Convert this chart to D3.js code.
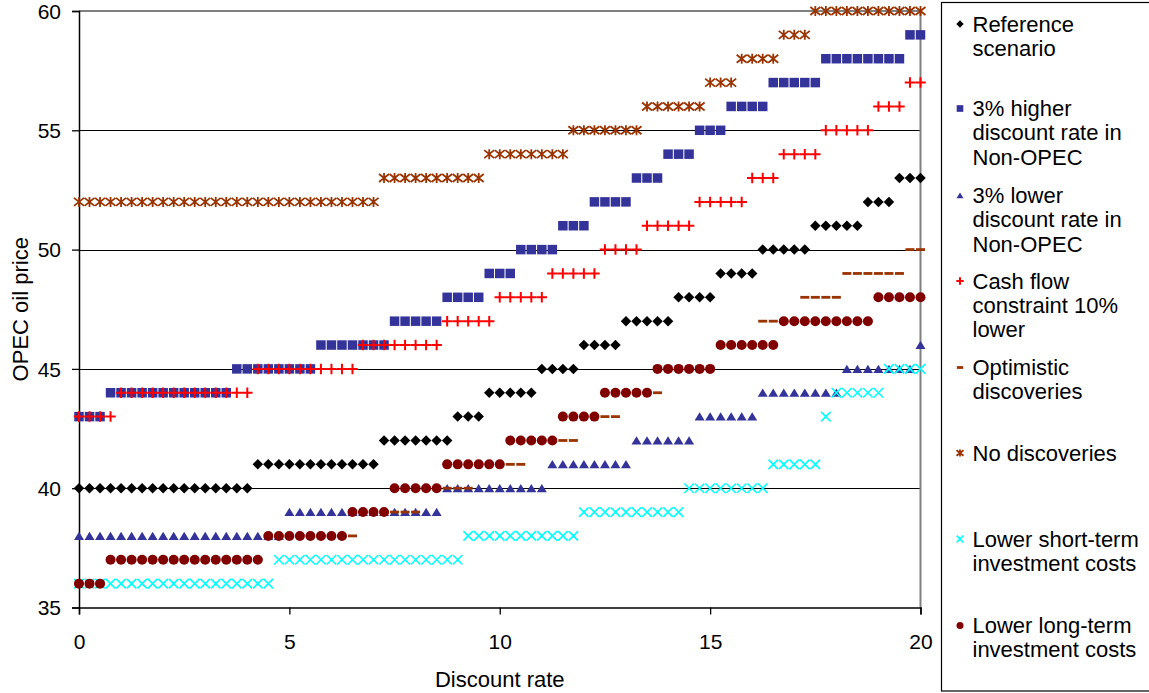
<!DOCTYPE html>
<html><head><meta charset="utf-8">
<script src="https://cdn.jsdelivr.net/npm/d3@7"></script>
<style>
body{margin:0;background:#fff;}
text{font-family:Arial,"Liberation Sans",sans-serif;fill:#000;}
</style>
</head><body>
<svg id="chart" width="1149" height="693"></svg>
<script>
// ---- DATA ----
const discountRates = [0,0.25,0.5,0.75,1,1.25,1.5,1.75,2,2.25,2.5,2.75,3,3.25,3.5,3.75,4,4.25,4.5,4.75,
  5,5.25,5.5,5.75,6,6.25,6.5,6.75,7,7.25,7.5,7.75,8,8.25,8.5,8.75,9,9.25,9.5,9.75,
  10,10.25,10.5,10.75,11,11.25,11.5,11.75,12,12.25,12.5,12.75,13,13.25,13.5,13.75,14,14.25,14.5,14.75,
  15,15.25,15.5,15.75,16,16.25,16.5,16.75,17,17.25,17.5,17.75,18,18.25,18.5,18.75,19,19.25,19.5,19.75,20];

const referenceScenario = [
  40,40,40,40,40,40,40,40,40,40,40,40,40,40,40,40,40,
  41,41,41,41,41,41,41,41,41,41,41,41,
  42,42,42,42,42,42,42,
  43,43,43,
  44,44,44,44,44,
  45,45,45,45,
  46,46,46,46,
  47,47,47,47,47,
  48,48,48,48,
  49,49,49,49,
  50,50,50,50,50,
  51,51,51,51,51,
  52,52,52,
  53,53,53];

const higherDiscountNonOPEC = [
  43,43,43,
  44,44,44,44,44,44,44,44,44,44,44,44,
  45,45,45,45,45,45,45,45,
  46,46,46,46,46,46,46,
  47,47,47,47,47,
  48,48,48,48,
  49,49,49,
  50,50,50,50,
  51,51,51,
  52,52,52,52,
  53,53,53,
  54,54,54,
  55,55,55,
  56,56,56,56,
  57,57,57,57,57,
  58,58,58,58,58,58,58,58,
  59,59];

const lowerDiscountNonOPEC = [
  38,38,38,38,38,38,38,38,38,38,38,38,38,38,38,38,38,38,38,38,
  39,39,39,39,39,39,39,39,39,39,39,39,39,39,39,
  40,40,40,40,40,40,40,40,40,40,
  41,41,41,41,41,41,41,41,
  42,42,42,42,42,42,
  43,43,43,43,43,43,
  44,44,44,44,44,44,44,44,
  45,45,45,45,45,45,45,
  46];

const cashFlowConstraint = [
  43,43,43,43,
  44,44,44,44,44,44,44,44,44,44,44,44,44,
  45,45,45,45,45,45,45,45,45,45,
  46,46,46,46,46,46,46,46,
  47,47,47,47,47,
  48,48,48,48,48,
  49,49,49,49,49,
  50,50,50,50,
  51,51,51,51,51,
  52,52,52,52,52,
  53,53,53,
  54,54,54,54,
  55,55,55,55,55,
  56,56,56,
  57,57];

const optimisticDiscoveries = [
  36,36,36,
  37,37,37,37,37,37,37,37,37,37,37,37,37,37,37,
  38,38,38,38,38,38,38,38,38,
  39,39,39,39,39,39,
  40,40,40,40,40,
  41,41,41,41,41,
  42,42,42,42,42,
  43,43,43,43,
  44,44,44,44,
  45,45,45,45,45,
  46,46,46,46,
  47,47,47,47,
  48,48,48,48,
  49,49,49,49,49,49,
  50,50];

const noDiscoveries = [
  52,52,52,52,52,52,52,52,52,52,52,52,52,52,52,52,52,52,52,52,52,52,52,52,52,52,52,52,52,
  53,53,53,53,53,53,53,53,53,53,
  54,54,54,54,54,54,54,54,
  55,55,55,55,55,55,55,
  56,56,56,56,56,56,
  57,57,57,
  58,58,58,58,
  59,59,59,
  60,60,60,60,60,60,60,60,60,60,60];

const lowerShortTermCosts = [
  36,36,36,36,36,36,36,36,36,36,36,36,36,36,36,36,36,36,36,
  37,37,37,37,37,37,37,37,37,37,37,37,37,37,37,37,37,37,
  38,38,38,38,38,38,38,38,38,38,38,
  39,39,39,39,39,39,39,39,39,39,
  40,40,40,40,40,40,40,40,
  41,41,41,41,41,
  43,
  44,44,44,44,44,
  45,45,45,45];

const lowerLongTermCosts = [
  36,36,36,
  37,37,37,37,37,37,37,37,37,37,37,37,37,37,37,
  38,38,38,38,38,38,38,38,
  39,39,39,39,
  40,40,40,40,40,
  41,41,41,41,41,41,
  42,42,42,42,42,
  43,43,43,43,
  44,44,44,44,44,
  45,45,45,45,45,45,
  46,46,46,46,46,46,
  47,47,47,47,47,47,47,47,47,
  48,48,48,48,48];

const seriesNames = [
  ["Reference","scenario"],
  ["3% higher","discount rate in","Non-OPEC"],
  ["3% lower","discount rate in","Non-OPEC"],
  ["Cash flow","constraint 10%","lower"],
  ["Optimistic","discoveries"],
  ["No discoveries"],
  ["Lower short-term","investment costs"],
  ["Lower long-term","investment costs"]
];
const xTicks = [0,5,10,15,20];
const yTicks = [35,40,45,50,55,60];
const xTitle = "Discount rate";
const yTitle = "OPEC oil price";

// ---- STYLE ----
const series = [
  {values: referenceScenario,      shape:"diamond",  color:"#000000", size:10.5},
  {values: higherDiscountNonOPEC,  shape:"square",   color:"#333399", size:9.5},
  {values: lowerDiscountNonOPEC,   shape:"triangle", color:"#333399", size:10},
  {values: cashFlowConstraint,     shape:"plus",     color:"#FF0000", size:10.5},
  {values: optimisticDiscoveries,  shape:"dash",     color:"#993300", size:9},
  {values: noDiscoveries,          shape:"asterisk", color:"#993300", size:10},
  {values: lowerShortTermCosts,    shape:"cross",    color:"#00FFFF", size:9.5},
  {values: lowerLongTermCosts,     shape:"circle",   color:"#800000", size:10}
];

function markerPath(shape, s){
  const h = s/2;
  switch(shape){
    case "diamond": return `M0,${-h}L${h},0L0,${h}L${-h},0Z`;
    case "square": return `M${-h},${-h}H${h}V${h}H${-h}Z`;
    case "triangle": return `M0,${-h*0.85}L${h},${h*0.8}L${-h},${h*0.8}Z`;
    case "plus": return `M${-h},0H${h}M0,${-h}V${h}`;
    case "cross": return `M${-h},${-h}L${h},${h}M${-h},${h}L${h},${-h}`;
    case "asterisk": return `M${-h},${-h*0.8}L${h},${h*0.8}M${-h},${h*0.8}L${h},${-h*0.8}M0,${-h}V${h}`;
    case "dash": return `M${-h},-1.4H${h}V1.4H${-h}Z`;
    case "circle": return `M${h},0A${h},${h} 0 1,1 ${-h},0A${h},${h} 0 1,1 ${h},0Z`;
  }
}
function styleMarker(sel, d){
  const stroked = (d.shape==="plus"||d.shape==="cross"||d.shape==="asterisk");
  sel.attr("fill", stroked ? "none" : d.color)
     .attr("stroke", stroked ? d.color : "none")
     .attr("stroke-width", d.shape==="plus" ? 2 : (d.shape==="asterisk"?1.8:1.6));
}

const svg = d3.select("#chart");
const plotL = 79, plotR = 920.5, plotT = 11, plotB = 607.5;
const x = d3.scaleLinear().domain([0,20]).range([plotL,plotR]);
const y = d3.scaleLinear().domain([35,60]).range([plotB,plotT]);

// gridlines
svg.append("g").selectAll("line").data(yTicks.filter(v=>v>35 && v<60)).join("line")
  .attr("x1", plotL).attr("x2", plotR)
  .attr("y1", d=>Math.round(y(d))+0.5).attr("y2", d=>Math.round(y(d))+0.5)
  .attr("stroke","#000").attr("stroke-width",1);
// plot area border top/right
svg.append("line").attr("x1",plotL).attr("x2",plotR+1).attr("y1",y(60)).attr("y2",y(60))
  .attr("stroke","#808080").attr("stroke-width",2);
svg.append("line").attr("x1",plotR).attr("x2",plotR).attr("y1",y(60)).attr("y2",plotB)
  .attr("stroke","#808080").attr("stroke-width",2);

// axes
const yAxis = d3.axisLeft(y).tickValues(yTicks).tickSize(7).tickPadding(11).tickFormat(d3.format("d"));
const xAxis = d3.axisBottom(x).tickValues(xTicks).tickSize(7).tickPadding(20).tickFormat(d3.format("d"));
const gy = svg.append("g").attr("transform",`translate(${plotL},0)`).call(yAxis);
const gx = svg.append("g").attr("transform",`translate(0,${plotB})`).call(xAxis);
[gx, gy].forEach(g=>{
  g.select(".domain").attr("stroke","#000").attr("stroke-width",1.5);
  g.selectAll(".tick line").attr("stroke","#000").attr("stroke-width",1.3);
  g.selectAll(".tick text").attr("font-size",21).attr("font-family","Arial, 'Liberation Sans', sans-serif").attr("fill","#000");
});
gy.selectAll(".tick text").attr("dy","0.34em");

// axis titles
svg.append("text").attr("x",(plotL+plotR)/2).attr("y",687).attr("text-anchor","middle")
  .attr("font-size",22).text(xTitle);
svg.append("text").attr("transform",`translate(28,${(plotT+plotB)/2}) rotate(-90)`)
  .attr("text-anchor","middle").attr("font-size",22).text(yTitle);

// markers
series.forEach(s=>{
  const g = svg.append("g");
  g.selectAll("path").data(s.values.map((v,i)=>({x:discountRates[i], y:v}))).join("path")
    .attr("transform", d=>`translate(${x(d.x)},${y(d.y)})`)
    .attr("d", markerPath(s.shape, s.size))
    .call(sel=>styleMarker(sel, s));
});

// legend
svg.append("rect").attr("x",941.5).attr("y",2.5).attr("width",230).attr("height",688.5)
  .attr("fill","none").attr("stroke","#000").attr("stroke-width",1.2);
const legendBase = [31.5, 116, 203, 288.5, 375, 460.5, 546.5, 633];
series.forEach((s,k)=>{
  const g = svg.append("g");
  g.append("path").attr("transform",`translate(960,${legendBase[k]-7.5})`)
    .attr("d", markerPath(s.shape, s.size*0.7)).call(sel=>styleMarker(sel, s));
  seriesNames[k].forEach((line,j)=>{
    g.append("text").attr("x",972.5).attr("y",legendBase[k]+j*24.4)
      .attr("font-size",22).text(line);
  });
});
</script>
</body></html>
